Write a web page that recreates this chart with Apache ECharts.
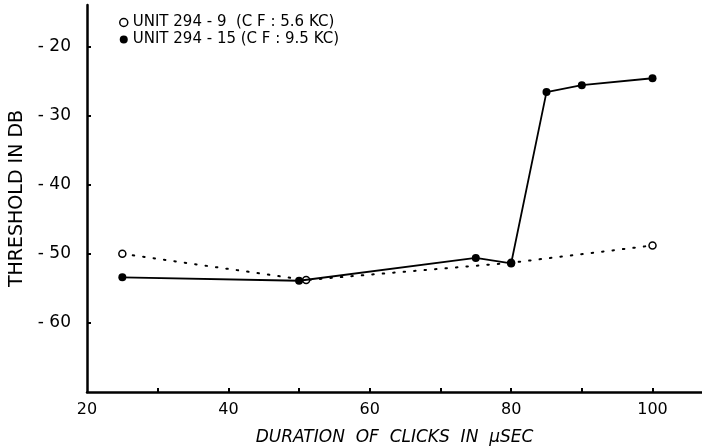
<!DOCTYPE html>
<html><head><meta charset="utf-8">
<script src="https://cdn.jsdelivr.net/npm/echarts@6/dist/echarts.min.js"></script>
<style>html,body{margin:0;padding:0;background:#fff}#c{width:702px;height:448px}</style>
</head><body><div id="c"></div>
<script>
const unit9Name = 'UNIT 294 - 9  (C F : 5.6 KC)';
const unit15Name = 'UNIT 294 - 15 (C F : 9.5 KC)';
const unit9 = [[25, -50.0], [51, -53.8], [80, -51.3], [100, -48.8]];
const unit15 = [[25, -53.4], [50, -53.9], [75, -50.6], [80, -51.4], [85, -26.6], [90, -25.6], [100, -24.6]];
const xTicks = [30, 40, 50, 60, 70, 80, 90, 100];
const xLabels = [20, 40, 60, 80, 100];
const yTicks = [-20, -30, -40, -50, -60];
const xTitle = 'DURATION  OF  CLICKS  IN  μSEC';
const yTitle = 'THRESHOLD IN DB';

const chart = echarts.init(document.getElementById('c'));
const font = 'DejaVu Sans';
chart.setOption({
  animation: false,
  backgroundColor: '#fff',
  textStyle: {fontFamily: font, color: '#000'},
  grid: {left: 87, right: 0, top: 5, bottom: 56, containLabel: false, outerBoundsMode: 'none'},
  legend: {
    orient: 'vertical', left: 114, top: 10, itemGap: 2, itemWidth: 8, itemHeight: 8,
    textStyle: {fontFamily: font, fontSize: 15, color: '#000'},
    data: [
      {name: unit9Name, icon: 'circle', itemStyle: {color: '#fff', borderColor: '#000', borderWidth: 1.5}},
      {name: unit15Name, icon: 'circle', itemStyle: {color: '#000'}}
    ]
  },
  xAxis: {
    type: 'value', min: 20, max: 107, interval: 10,
    splitLine: {show: false},
    axisLine: {lineStyle: {color: '#000', width: 2.5}},
    axisTick: {inside: true, length: 4, customValues: xTicks, lineStyle: {color: '#000', width: 2}},
    axisLabel: {customValues: xLabels, fontSize: 16, color: '#000', margin: 10, fontFamily: font},
    name: xTitle, nameLocation: 'middle', nameGap: 37,
    nameTextStyle: {fontSize: 17, fontStyle: 'italic', color: '#000', fontFamily: font}
  },
  yAxis: {
    type: 'value', min: -70, max: -14, interval: 10,
    splitLine: {show: false},
    axisLine: {lineStyle: {color: '#000', width: 2.5}},
    axisTick: {inside: true, length: 4, customValues: yTicks, lineStyle: {color: '#000', width: 2}},
    axisLabel: {customValues: yTicks, fontSize: 17, color: '#000', margin: 16, fontFamily: font,
      formatter: v => '- ' + Math.abs(v)},
    name: yTitle, nameLocation: 'middle', nameGap: 60,
    nameTextStyle: {fontSize: 19, color: '#000', fontFamily: font}
  },
  series: [
    {
      name: unit9Name, type: 'line', data: unit9, z: 2,
      symbol: 'circle', symbolSize: 7,
      itemStyle: {color: '#fff', borderColor: '#000', borderWidth: 1.5},
      lineStyle: {color: '#000', width: 2, type: [1.5, 9], cap: 'round'}
    },
    {
      name: unit15Name, type: 'line', data: unit15, z: 3,
      symbol: 'circle', symbolSize: 8,
      itemStyle: {color: '#000'},
      lineStyle: {color: '#000', width: 1.8}
    }
  ]
});
</script></body></html>
